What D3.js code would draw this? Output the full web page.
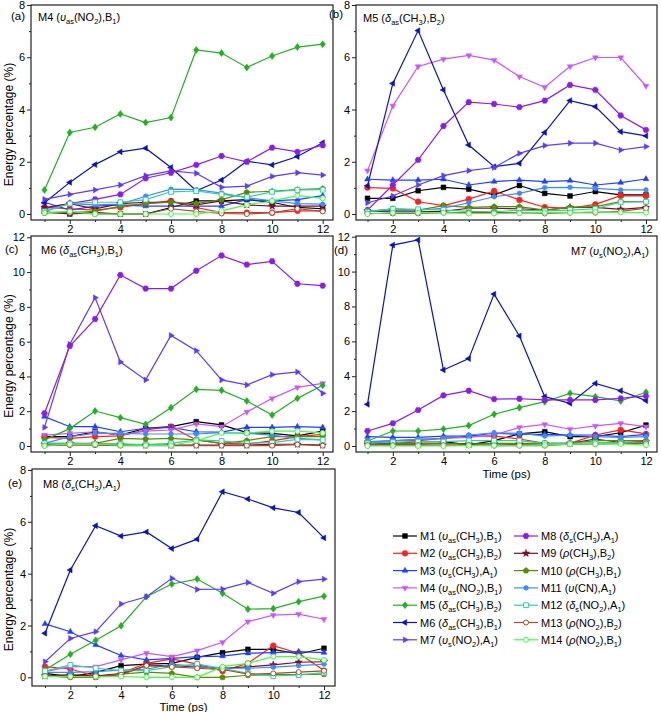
<!DOCTYPE html>
<html><head><meta charset="utf-8">
<script src="https://cdn.jsdelivr.net/npm/d3@7"></script>
<style>
body{margin:0;background:#fff}
text{font-family:Arial,"Liberation Sans",sans-serif;fill:#000}
</style>
</head><body><svg id="chart" width="661" height="712"></svg>
<script>
const times = [1,2,3,4,5,6,7,8,9,10,11,12];
const modeNames = ["M1","M2","M3","M4","M5","M6","M7","M8","M9","M10","M11","M12","M13","M14"];
const legendLabels = [
 "M1 (<i>υ</i><sub>as</sub>(CH<sub>3</sub>),B<sub>1</sub>)",
 "M2 (<i>υ</i><sub>as</sub>(CH<sub>3</sub>),B<sub>2</sub>)",
 "M3 (<i>υ</i><sub>s</sub>(CH<sub>3</sub>),A<sub>1</sub>)",
 "M4 (<i>υ</i><sub>as</sub>(NO<sub>2</sub>),B<sub>1</sub>)",
 "M5 (<i>δ</i><sub>as</sub>(CH<sub>3</sub>),B<sub>2</sub>)",
 "M6 (<i>δ</i><sub>as</sub>(CH<sub>3</sub>),B<sub>1</sub>)",
 "M7 (<i>υ</i><sub>s</sub>(NO<sub>2</sub>),A<sub>1</sub>)",
 "M8 (<i>δ</i><sub>s</sub>(CH<sub>3</sub>),A<sub>1</sub>)",
 "M9 (<i>ρ</i>(CH<sub>3</sub>),B<sub>2</sub>)",
 "M10 (<i>ρ</i>(CH<sub>3</sub>),B<sub>1</sub>)",
 "M11 (<i>υ</i>(CN),A<sub>1</sub>)",
 "M12 (<i>δ</i><sub>s</sub>(NO<sub>2</sub>),A<sub>1</sub>)",
 "M13 (<i>ρ</i>(NO<sub>2</sub>),B<sub>2</sub>)",
 "M14 (<i>ρ</i>(NO<sub>2</sub>),B<sub>1</sub>)"
];
const colors = ["#000000","#ff2020","#2040ff","#c858f8","#20b020","#0a14b4","#5a3cff","#8a1ee6","#7a0a2a","#5a8c00","#3c8cff","#30d0a0","#a0502a","#40ff40"];
const shapes = ["square","circle","triUp","triDown","diamond","triLeft","triRight","hexagon","star","pentagon","circleSmall","squareOpen","circleOpen","circleOpen"];

const panelLetters = ["(a)","(b)","(c)","(d)","(e)"];
const panelTitles = [
 "M4 (<i>υ</i><sub>as</sub>(NO<sub>2</sub>),B<sub>1</sub>)",
 "M5 (<i>δ</i><sub>as</sub>(CH<sub>3</sub>),B<sub>2</sub>)",
 "M6 (<i>δ</i><sub>as</sub>(CH<sub>3</sub>),B<sub>1</sub>)",
 "M7 (<i>υ</i><sub>s</sub>(NO<sub>2</sub>),A<sub>1</sub>)",
 "M8 (<i>δ</i><sub>s</sub>(CH<sub>3</sub>),A<sub>1</sub>)"
];
const yMaxes = [8,8,12,12,8];
const yTicks8 = [0,2,4,6,8];
const yTicks12 = [0,2,4,6,8,10,12];
const xTickLabels = [2,4,6,8,10,12];

const valuesA = [
 [0.08,0.0,0.05,0.0,0.0,0.25,0.5,0.5,0.55,0.45,0.25,0.2],
 [0.25,0.2,0.15,0.25,0.4,0.5,0.25,0.05,0.05,0.05,0.12,0.12],
 [0.45,0.15,0.3,0.35,0.3,0.3,0.3,0.3,0.55,0.5,0.55,0.7],
 null,
 [0.92,3.12,3.32,3.83,3.5,3.69,6.28,6.16,5.61,6.05,6.39,6.5],
 [0.43,1.21,1.89,2.38,2.52,1.78,0.89,1.3,2.02,1.88,2.2,2.73],
 [0.56,0.75,0.92,1.11,1.47,1.65,1.56,1.02,1.07,1.44,1.58,1.49],
 [0.2,0.4,0.56,0.75,1.37,1.58,1.88,2.22,2.0,2.54,2.38,2.63],
 [0.25,0.4,0.2,0.4,0.45,0.45,0.35,0.5,0.35,0.3,0.3,0.3],
 [0.05,0.05,0.1,0.3,0.4,0.45,0.4,0.55,0.83,0.87,0.93,0.97],
 [0.1,0.4,0.35,0.38,0.68,0.95,0.93,0.8,0.63,0.5,0.4,0.38],
 [0.1,0.4,0.45,0.45,0.55,0.85,0.88,0.75,0.65,0.85,0.92,0.93],
 [0.05,0.05,0.0,0.0,0.0,0.2,0.1,0.02,0.0,0.05,0.2,0.1],
 [0.05,0.1,0.0,0.0,0.0,0.0,0.0,0.12,0.35,0.5,0.7,0.6]
];
const valuesB = [
 [0.6,0.6,0.89,1.02,0.95,0.73,1.09,0.79,0.69,0.86,0.73,0.73],
 [1.01,0.98,0.47,0.32,0.57,0.88,0.54,0.26,0.22,0.37,0.7,0.69],
 [1.33,1.3,1.3,1.33,1.11,1.24,1.3,1.24,1.28,1.11,1.2,1.34],
 [1.66,4.14,5.65,5.93,6.07,5.89,5.26,4.85,5.65,5.99,5.99,4.9],
 null,
 [1.08,5.0,7.02,4.75,2.64,1.81,1.94,3.12,4.34,4.11,3.15,2.99],
 [0.43,0.69,1.11,1.47,1.66,1.78,2.32,2.62,2.71,2.71,2.45,2.58],
 [0.15,1.11,2.07,3.37,4.28,4.21,4.09,4.34,4.94,4.75,3.77,3.22],
 [0.12,0.08,0.08,0.1,0.22,0.22,0.2,0.15,0.25,0.25,0.18,0.25],
 [0.1,0.2,0.15,0.32,0.25,0.28,0.28,0.15,0.25,0.28,0.47,0.47],
 [0.13,0.13,0.15,0.22,0.43,0.66,0.79,1.01,1.02,0.98,0.92,0.92],
 [0.08,0.2,0.18,0.15,0.1,0.08,0.15,0.12,0.15,0.2,0.45,0.47],
 [0.02,0.02,0.02,0.05,0.05,0.05,0.05,0.02,0.05,0.05,0.1,0.22],
 [0.0,0.05,0.05,0.05,0.02,0.02,0.03,0.05,0.05,0.08,0.06,0.05]
];
const valuesC = [
 [0.54,0.54,0.82,0.63,1.02,1.11,1.4,1.21,0.77,0.73,0.58,0.86],
 [0.5,0.44,0.54,0.58,0.92,1.11,0.35,0.15,0.12,0.29,0.54,0.67],
 [1.69,1.11,1.11,0.82,1.02,1.07,0.82,0.8,1.07,1.07,1.11,1.07],
 [0.63,0.73,0.82,0.63,0.86,0.92,1.27,1.11,1.96,2.74,3.37,3.6],
 [0.35,1.0,2.01,1.63,1.25,2.2,3.26,3.2,2.59,1.78,2.74,3.49],
 null,
 [1.07,5.85,8.53,4.83,3.8,6.36,5.48,3.8,3.51,4.1,4.26,3.03],
 [1.88,5.75,7.3,9.83,9.05,9.05,10.08,10.95,10.43,10.62,9.33,9.22],
 [0.1,0.15,0.12,0.1,0.05,0.05,0.05,0.05,0.05,0.1,0.1,0.05],
 [0.15,0.15,0.15,0.44,0.4,0.44,0.35,0.15,0.31,0.54,0.54,0.54],
 [0.15,0.54,0.73,0.73,0.69,0.69,0.69,0.77,0.73,0.63,0.44,0.35],
 [0.15,0.15,0.12,0.12,0.08,0.15,0.35,0.29,0.15,0.19,0.38,0.35],
 [0.02,0.05,0.05,0.02,0.02,0.02,0.02,0.02,0.02,0.02,0.08,0.02],
 [0.0,0.1,0.1,0.05,0.03,0.03,0.3,0.75,0.75,0.85,0.85,0.75]
];
const valuesD = [
 [0.15,0.15,0.25,0.25,0.06,0.31,0.69,0.82,0.54,0.54,0.76,1.2],
 [0.21,0.31,0.31,0.44,0.57,0.57,0.4,0.15,0.15,0.63,0.92,0.69],
 [0.54,0.5,0.5,0.57,0.57,0.73,0.67,0.67,0.63,0.63,0.54,0.67],
 [0.15,0.29,0.38,0.44,0.5,0.63,1.07,1.24,0.96,1.15,1.3,1.11],
 [0.29,0.86,0.86,0.97,1.17,1.82,2.2,2.54,3.02,2.83,2.58,3.08],
 [2.39,11.52,11.81,4.36,5.01,8.71,6.31,2.83,2.45,3.59,3.17,2.6],
 null,
 [0.86,1.3,2.06,2.9,3.17,2.69,2.71,2.64,2.64,2.64,2.73,2.87],
 [0.1,0.1,0.1,0.15,0.12,0.12,0.1,0.12,0.15,0.4,0.2,0.25],
 [0.25,0.15,0.15,0.15,0.1,0.15,0.15,0.15,0.15,0.31,0.31,0.31],
 [0.25,0.31,0.38,0.44,0.63,0.76,0.73,0.57,0.63,0.54,0.5,0.54],
 [0.15,0.21,0.25,0.25,0.31,0.31,0.31,0.15,0.15,0.19,0.19,0.19],
 [0.05,0.05,0.05,0.05,0.05,0.02,0.02,0.02,0.1,0.1,0.15,0.15],
 [0.0,0.0,0.0,0.0,0.02,0.02,0.02,0.05,0.1,0.12,0.12,0.05]
];
const valuesE = [
 [0.15,0.03,0.19,0.45,0.51,0.54,0.77,0.95,1.08,1.08,0.9,1.12],
 [0.41,0.32,0.05,0.15,0.54,0.71,0.51,0.24,0.54,1.22,0.93,0.26],
 [2.06,1.76,1.25,0.84,0.67,0.73,0.8,0.82,0.93,0.95,0.99,0.95],
 [0.22,0.41,0.41,0.67,0.93,0.8,1.03,1.35,2.15,2.4,2.44,2.24],
 [0.28,0.89,1.43,1.99,3.11,3.6,3.79,3.24,2.63,2.65,2.92,3.13],
 [1.7,4.14,5.85,5.45,5.61,4.97,5.33,7.16,6.88,6.54,6.36,5.38],
 [0.6,1.5,1.76,2.83,3.11,3.82,3.39,3.4,3.66,3.24,3.69,3.79],
 null,
 [0.05,0.1,0.05,0.12,0.45,0.45,0.4,0.35,0.4,0.48,0.58,0.6],
 [0.05,0.05,0.0,0.12,0.2,0.15,0.0,0.0,0.08,0.1,0.1,0.12],
 [0.19,0.19,0.22,0.28,0.31,0.51,0.41,0.35,0.35,0.39,0.45,0.51],
 [0.24,0.48,0.35,0.26,0.26,0.41,0.51,0.35,0.15,0.05,0.09,0.18],
 [0.05,0.0,0.02,0.1,0.45,0.4,0.35,0.3,0.12,0.15,0.2,0.25],
 [0.03,0.03,0.03,0.03,0.0,0.0,0.0,0.41,0.54,0.8,0.8,0.67]
];
const panelValues = [valuesA, valuesB, valuesC, valuesD, valuesE];

// ---------- layout (pixels) ----------
const layouts = [
 {fl:31, fr:333, ft:5,   fb:220, x1:44.5, x12:322.7, y0:214,   yTop:5,     letter:[11,20],  title:[38,21,"start"], ytitle:true, xtitle:0},
 {fl:356,fr:657, ft:5,   fb:220, x1:367.5,x12:646,   y0:214,   yTop:5,     letter:[329,18], title:[363,22,"start"], ytitle:false,xtitle:0},
 {fl:31, fr:333, ft:236, fb:452, x1:44.5, x12:322.7, y0:446,   yTop:237.3, letter:[5,252.5],title:[41,254,"start"], ytitle:true, xtitle:0},
 {fl:356,fr:657, ft:236, fb:452, x1:367.5,x12:646,   y0:446,   yTop:236.7, letter:[334,253.5],title:[649,255,"end"],ytitle:false,xtitle:26},
 {fl:32, fr:335, ft:469, fb:686, x1:45,   x12:324,   y0:677.3, yTop:470,   letter:[8,487],  title:[43,488,"start"], ytitle:true, xtitle:24.5}
];

const svg = d3.select("#chart");
const FS = 11;

function rich(textSel, markup, size) {
  const re = /<(i|sub)>(.*?)<\/(?:i|sub)>|([^<]+)/g;
  let m, shifted = false;
  while ((m = re.exec(markup))) {
    let t;
    if (m[3] !== undefined) {
      t = textSel.append("tspan").text(m[3]);
      if (shifted) { t.attr("dy", -3); shifted = false; }
    } else if (m[1] === "i") {
      t = textSel.append("tspan").text(m[2]).attr("font-style", "italic");
      if (shifted) { t.attr("dy", -3); shifted = false; }
    } else {
      t = textSel.append("tspan").text(m[2]).attr("font-size", size * 0.68);
      if (!shifted) { t.attr("dy", 3); shifted = true; }
    }
  }
}

function poly(n, r, rot) {
  const pts = [];
  for (let i = 0; i < n; i++) {
    const a = rot + i * 2 * Math.PI / n;
    pts.push([r * Math.cos(a), r * Math.sin(a)]);
  }
  return "M" + pts.map(p => p[0].toFixed(2) + "," + p[1].toFixed(2)).join("L") + "Z";
}
function shapePath(type) {
  const r = 2.7;
  switch (type) {
    case "square": case "squareOpen": return `M${-r+0.3},${-r+0.3}h${2*r-0.6}v${2*r-0.6}h${-2*r+0.6}Z`;
    case "circle": return d3.arc()({innerRadius:0,outerRadius:r+0.2,startAngle:0,endAngle:2*Math.PI});
    case "circleSmall": return d3.arc()({innerRadius:0,outerRadius:r-0.3,startAngle:0,endAngle:2*Math.PI});
    case "circleOpen": return d3.arc()({innerRadius:0,outerRadius:r-0.2,startAngle:0,endAngle:2*Math.PI});
    case "triUp": return poly(3, r*1.25, -Math.PI/2);
    case "triDown": return poly(3, r*1.25, Math.PI/2);
    case "triLeft": return poly(3, r*1.25, Math.PI);
    case "triRight": return poly(3, r*1.25, 0);
    case "diamond": return `M0,${-r*1.3}L${r},0L0,${r*1.3}L${-r},0Z`;
    case "hexagon": return poly(6, r*1.15, 0);
    case "pentagon": return poly(5, r*1.15, -Math.PI/2);
    case "star": {
      const pts = [];
      for (let i = 0; i < 10; i++) {
        const a = -Math.PI/2 + i * Math.PI / 5;
        const rr = i % 2 ? r*0.6 : r*1.45;
        pts.push([rr*Math.cos(a), rr*Math.sin(a)]);
      }
      return "M" + pts.map(p => p[0].toFixed(2)+","+p[1].toFixed(2)).join("L") + "Z";
    }
  }
}
function isOpen(type){ return type === "squareOpen" || type === "circleOpen"; }

function drawMarker(g, type, color, x, y) {
  g.append("path").attr("d", shapePath(type)).attr("transform", `translate(${x},${y})`)
    .attr("fill", isOpen(type) ? "#fff" : color)
    .attr("stroke", color).attr("stroke-width", isOpen(type) ? 1 : 0.5);
}

panelValues.forEach((vals, p) => {
  const L = layouts[p];
  const ymax = yMaxes[p];
  const x = d3.scaleLinear().domain([1, 12]).range([L.x1, L.x12]);
  const y = d3.scaleLinear().domain([0, ymax]).range([L.y0, L.yTop]);
  const g = svg.append("g");

  const majors = ymax === 8 ? yTicks8 : yTicks12;
  const minors = d3.range(1, ymax, 2);
  const ya = g.append("g").attr("transform", `translate(${L.fl},0)`)
    .call(d3.axisLeft(y).tickValues(majors).tickSize(4).tickPadding(2).tickFormat(d3.format("d")));
  ya.select(".domain").remove();
  ya.selectAll("text").attr("font-size", FS).attr("font-family", "Arial, 'Liberation Sans', sans-serif");
  ya.selectAll("line").attr("stroke", "#222");
  const ym = g.append("g").attr("transform", `translate(${L.fl},0)`)
    .call(d3.axisLeft(y).tickValues(minors).tickSize(2).tickFormat(""));
  ym.select(".domain").remove();
  ym.selectAll("line").attr("stroke", "#222");

  const xa = g.append("g").attr("transform", `translate(0,${L.fb})`)
    .call(d3.axisBottom(x).tickValues(xTickLabels).tickSize(4).tickPadding(1).tickFormat(d3.format("d")));
  xa.select(".domain").remove();
  xa.selectAll("text").attr("font-size", FS).attr("font-family", "Arial, 'Liberation Sans', sans-serif");
  xa.selectAll("line").attr("stroke", "#222");
  const xm = g.append("g").attr("transform", `translate(0,${L.fb})`)
    .call(d3.axisBottom(x).tickValues([1,3,5,7,9,11]).tickSize(2).tickFormat(""));
  xm.select(".domain").remove();
  xm.selectAll("line").attr("stroke", "#222");

  g.append("rect").attr("x", L.fl).attr("y", L.ft).attr("width", L.fr - L.fl).attr("height", L.fb - L.ft)
    .attr("fill", "none").attr("stroke", "#222").attr("stroke-width", 1.2);

  const line = d3.line().x((d, i) => x(times[i])).y(d => y(d));
  vals.forEach((s, k) => {
    if (!s) return;
    g.append("path").attr("d", line(s)).attr("fill", "none")
      .attr("stroke", colors[k]).attr("stroke-width", 1.2);
  });
  vals.forEach((s, k) => {
    if (!s) return;
    s.forEach((v, i) => drawMarker(g, shapes[k], colors[k], x(times[i]), y(v)));
  });

  g.append("text").attr("x", L.letter[0]).attr("y", L.letter[1]).attr("font-size", 11.5).text(panelLetters[p]);
  const t = g.append("text").attr("x", L.title[0]).attr("y", L.title[1]).attr("font-size", FS)
    .attr("text-anchor", L.title[2]);
  rich(t, panelTitles[p], FS);

  if (L.ytitle) {
    const cy = (L.ft + L.fb) / 2 + 12;
    g.append("text").attr("transform", `translate(12.5,${cy}) rotate(-90)`).attr("text-anchor", "middle")
      .attr("font-size", FS + 1).text("Energy percentage (%)");
  }
  if (L.xtitle) {
    g.append("text").attr("x", (L.fl + L.fr) / 2).attr("y", L.fb + L.xtitle).attr("text-anchor", "middle")
      .attr("font-size", FS + 0.5).text("Time (ps)");
  }
});

// legend
const lg = svg.append("g");
legendLabels.forEach((lab, k) => {
  const col = k < 7 ? 0 : 1;
  const row = k % 7;
  const lx = col === 0 ? 393 : 514;
  const ly = 536 + row * 17.3;
  lg.append("line").attr("x1", lx).attr("x2", lx + 24).attr("y1", ly).attr("y2", ly)
    .attr("stroke", colors[k]).attr("stroke-width", 1.2);
  drawMarker(lg, shapes[k], colors[k], lx + 12, ly);
  const t = lg.append("text").attr("x", lx + 27).attr("y", ly + 4).attr("font-size", FS);
  rich(t, lab, FS);
});
</script>
</body></html>
